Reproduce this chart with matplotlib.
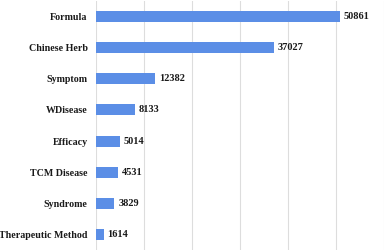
import matplotlib.pyplot as plt

categories = ['Formula', 'Chinese Herb', 'Symptom', 'WDisease', 'Efficacy',
              'TCM Disease', 'Syndrome', 'Therapeutic Method']
counts = [50861, 37027, 12382, 8133, 5014, 4531, 3829, 1614]

plt.rcParams['font.family'] = ['Liberation Serif', 'DejaVu Serif']

fig = plt.figure(figsize=(3.87, 2.52), dpi=100)
ax = fig.add_axes([0.248, 0.008, 0.744, 0.988])

ypos = list(range(len(categories)))
ax.barh(ypos, counts, height=0.35, color='#5b8ee6')
for y, v in zip(ypos, counts):
    ax.text(v + 800, y, str(v), va='center', ha='left', fontsize=7.5,
            fontweight='bold', color='#1a1a1a')

ax.set_yticks(ypos)
ax.set_yticklabels(categories, fontsize=7.2, fontweight='bold', color='#1a1a1a')
ax.set_ylim(len(categories) - 0.5, -0.5)
ax.set_xlim(0, 60000)
ax.set_xticks(range(0, 60001, 10000))
ax.tick_params(axis='x', bottom=False, labelbottom=False)
ax.tick_params(axis='y', length=0, pad=6)
ax.xaxis.grid(True, color='#dddddd', linewidth=0.8)
ax.set_axisbelow(True)
for s in ax.spines.values():
    s.set_visible(False)

plt.savefig('out.png', dpi=100)
plt.close()
